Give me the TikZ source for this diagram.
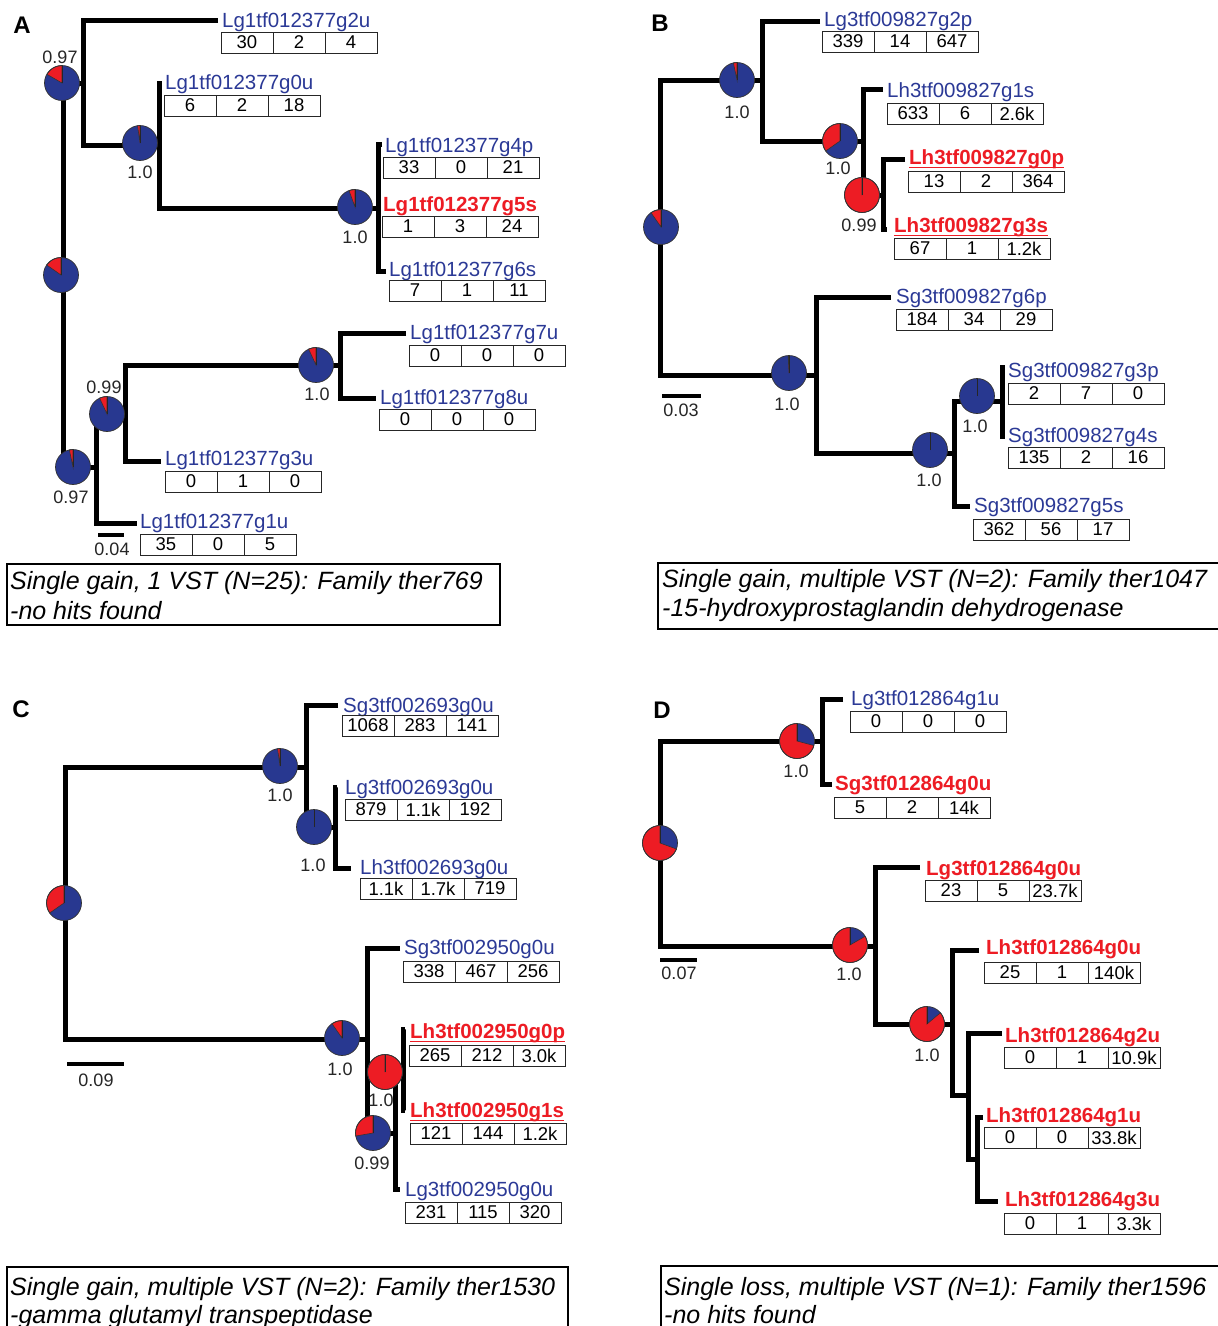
\documentclass[tikz,border=0pt]{standalone}
\usepackage{fontspec}
\setmainfont{Liberation Sans}
\definecolor{pblue}{RGB}{40,56,144}
\definecolor{pred}{RGB}{237,28,36}
\definecolor{lblue}{RGB}{43,57,150}
\tikzset{
  branch/.style={line width=5pt},
  lbl/.style={anchor=base west, inner sep=0pt, text=lblue, font=\fontsize{20.5}{24}\selectfont},
  rlbl/.style={anchor=base west, inner sep=0pt, text=pred, font=\bfseries\fontsize{20.5}{24}\selectfont},
  cell/.style={draw=black!85, line width=0.9pt, minimum width=52pt, minimum height=21pt, inner sep=0pt, outer sep=0pt, font=\fontsize{18.5}{20}\selectfont},
  supp/.style={inner sep=0pt, text=black!85, font=\fontsize{18}{20}\selectfont},
  captxt/.style={anchor=base west, inner sep=0pt, font=\itshape\fontsize{25}{30}\selectfont},
  capbox/.style={draw, line width=1.8pt},
  plabel/.style={inner sep=0pt, font=\bfseries\fontsize{24}{28}\selectfont},
  sbar/.style={line width=3.5pt},
}
\newcommand\mypie[3]{%
  \coordinate (#1) at (#2);
  \fill[pblue] (#1) circle[radius=17.5pt];
  \ifnum#3>0
    \filldraw[fill=pred, draw=black!80, line width=0.6pt] (#1) -- ++(90:17.5pt) arc[start angle=90, delta angle=#3, radius=17.5pt] -- cycle;
  \fi
  \draw[black!80, line width=0.7pt] (#1) circle[radius=17.5pt];
  \draw[black!85, line width=0.9pt] (#1) -- ++(0pt,17.5pt);
}
\newcommand\mytab[5]{%
  \node[cell, anchor=north west] (#1a) at (#2) {#3};
  \node[cell, anchor=west] (#1b) at (#1a.east) {#4};
  \node[cell, anchor=west] (#1c) at (#1b.east) {#5};
}
\newcommand\ulab[3]{%
  \node[rlbl] (#1) at (#2) {#3};
  \draw[pred, line width=1.6pt] ([yshift=-3pt]#1.base west) -- ([yshift=-3pt]#1.base east);
}
\begin{document}
\begin{tikzpicture}[x=1pt,y=-1pt]
\useasboundingbox (0,0) rectangle (1218,1326);
\fill[white] (0,0) rectangle (1218,1326);

%%%%%%%%%%%%%%%% Panel A
\node[plabel] (LA) at (22,25) {A};
\coordinate (rA) at (63,275);
\coordinate (vA1) at (83,83);
\coordinate (vA2) at (159,145);
\coordinate (vA3) at (378,208);
\coordinate (vA4) at (96,467);
\coordinate (vA5) at (125,414);
\coordinate (vA6) at (340,365);
\coordinate (xAg2u) at (218,20);
\coordinate (xAg0u) at (159,81);
\coordinate (xAg4p) at (382,144);
\coordinate (xAg5s) at (381,208);
\coordinate (xAg6s) at (386,271);
\coordinate (xAg7u) at (406,333);
\coordinate (xAg8u) at (376,398);
\coordinate (xAg3u) at (161,461);
\coordinate (xAg1u) at (137,523);
\draw[branch] (vA1) -| (rA) |- (vA4);
\draw[branch] (xAg2u) -| (vA1) |- (vA2);
\draw[branch] (xAg0u) -| (vA2) |- (vA3);
\draw[branch] (xAg4p) -| (vA3) |- (xAg6s);
\draw[branch] (vA3) -- (xAg5s);
\draw[branch] (vA5) -| (vA4) |- (xAg1u);
\draw[branch] (vA6) -| (vA5) |- (xAg3u);
\draw[branch] (xAg7u) -| (vA6) |- (xAg8u);
\mypie{pA1}{62,83}{60}
\mypie{pA2}{140,143}{8}
\mypie{pA3}{355,207}{20}
\mypie{pAr}{61,275}{55}
\mypie{pA6}{316,365}{25}
\mypie{pA5}{107,414}{25}
\mypie{pA4}{73,467}{12}
\node[supp] (sA1) at (60,57) {0.97};
\node[supp] (sA2) at (140,172) {1.0};
\node[supp] (sA3) at (355,237) {1.0};
\node[supp] (sA6) at (317,394) {1.0};
\node[supp] (sA5) at (104,387) {0.99};
\node[supp] (sA4) at (71,497) {0.97};
\node[lbl] (Ag2u) at (222,27.5) {Lg1tf012377g2u};
\mytab{tAg2u}{221,32}{30}{2}{4}
\node[lbl] (Ag0u) at (165,89.5) {Lg1tf012377g0u};
\mytab{tAg0u}{164,95}{6}{2}{18}
\node[lbl] (Ag4p) at (385,152.5) {Lg1tf012377g4p};
\mytab{tAg4p}{383,157}{33}{0}{21}
\node[rlbl] (Ag5s) at (383,211.5) {Lg1tf012377g5s};
\mytab{tAg5s}{382,216}{1}{3}{24}
\node[lbl] (Ag6s) at (389,276.5) {Lg1tf012377g6s};
\mytab{tAg6s}{389,280}{7}{1}{11}
\node[lbl] (Ag7u) at (410,339.5) {Lg1tf012377g7u};
\mytab{tAg7u}{409,345}{0}{0}{0}
\node[lbl] (Ag8u) at (380,404.5) {Lg1tf012377g8u};
\mytab{tAg8u}{379,409}{0}{0}{0}
\node[lbl] (Ag3u) at (165,465.5) {Lg1tf012377g3u};
\mytab{tAg3u}{165,471}{0}{1}{0}
\node[lbl] (Ag1u) at (140,528.5) {Lg1tf012377g1u};
\mytab{tAg1u}{140,534}{35}{0}{5}
\coordinate (bA1) at (98,535);
\coordinate (bA2) at (124,535);
\draw[sbar] (bA1) -- (bA2);
\node[supp] (bAl) at (112,549) {0.04};
\coordinate (cA1) at (7,564);
\coordinate (cA2) at (500,625);
\draw[capbox] (cA1) rectangle (cA2);
\node[captxt] (capA1) at (10,589) {Single gain, 1 VST (N=25): Family ther769};
\node[captxt] (capA2) at (10,619) {-no hits found};

%%%%%%%%%%%%%%%% Panel B
\node[plabel] (LB) at (660,23) {B};
\coordinate (rB) at (660,227);
\coordinate (vB1) at (762,80);
\coordinate (vB2) at (863,141);
\coordinate (vB3) at (883,195);
\coordinate (vB4) at (816,375);
\coordinate (vB5) at (954,453);
\coordinate (vB6) at (1002,401);
\coordinate (xBg2p) at (820,21);
\coordinate (xBg1s) at (883,89);
\coordinate (xBg0p) at (905,159);
\coordinate (xBg3s) at (887,229);
\coordinate (xBg6p) at (891,297);
\coordinate (xBg3p) at (1005,367);
\coordinate (xBg4s) at (1005,436);
\coordinate (xBg5s) at (970,506);
\draw[branch] (vB1) -| (rB) |- (vB4);
\draw[branch] (xBg2p) -| (vB1) |- (vB2);
\draw[branch] (xBg1s) -| (vB2) |- (vB3);
\draw[branch] (xBg0p) -| (vB3) |- (xBg3s);
\draw[branch] (xBg6p) -| (vB4) |- (vB5);
\draw[branch] (vB6) -| (vB5) |- (xBg5s);
\draw[branch] (xBg3p) -| (vB6) |- (xBg4s);
\mypie{pB1}{737,80}{12}
\mypie{pB2}{840,141}{125}
\mypie{pB3}{862,195}{360}
\mypie{pBr}{661,227}{35}
\mypie{pB4}{789,373}{3}
\mypie{pB5}{930,450}{0}
\mypie{pB6}{977,396}{0}
\node[supp] (sB1) at (737,112) {1.0};
\node[supp] (sB2) at (838,168) {1.0};
\node[supp] (sB3) at (859,225) {0.99};
\node[supp] (sB4) at (787,404) {1.0};
\node[supp] (sB5) at (929,480) {1.0};
\node[supp] (sB6) at (975,426) {1.0};
\node[lbl] (Bg2p) at (824,26.5) {Lg3tf009827g2p};
\mytab{tBg2p}{822,31}{339}{14}{647}
\node[lbl] (Bg1s) at (887,97.5) {Lh3tf009827g1s};
\mytab{tBg1s}{887,103}{633}{6}{2.6k}
\ulab{Bg0p}{909,164.5}{Lh3tf009827g0p}
\mytab{tBg0p}{908,171}{13}{2}{364}
\ulab{Bg3s}{894,232.5}{Lh3tf009827g3s}
\mytab{tBg3s}{894,238}{67}{1}{1.2k}
\node[lbl] (Bg6p) at (896,303.5) {Sg3tf009827g6p};
\mytab{tBg6p}{896,309}{184}{34}{29}
\node[lbl] (Bg3p) at (1008,377.5) {Sg3tf009827g3p};
\mytab{tBg3p}{1008,383}{2}{7}{0}
\node[lbl] (Bg4s) at (1008,442.5) {Sg3tf009827g4s};
\mytab{tBg4s}{1008,447}{135}{2}{16}
\node[lbl] (Bg5s) at (974,512.5) {Sg3tf009827g5s};
\mytab{tBg5s}{973,519}{362}{56}{17}
\coordinate (bB1) at (662,396);
\coordinate (bB2) at (701,396);
\draw[sbar] (bB1) -- (bB2);
\node[supp] (bBl) at (681,410) {0.03};
\coordinate (cB1) at (658,563);
\coordinate (cB2) at (1240,629);
\draw[capbox] (cB1) rectangle (cB2);
\node[captxt] (capB1) at (662,587) {Single gain, multiple VST (N=2): Family ther1047};
\node[captxt] (capB2) at (662,616) {-15-hydroxyprostaglandin dehydrogenase};

%%%%%%%%%%%%%%%% Panel C
\node[plabel] (LC) at (21,709) {C};
\coordinate (rC) at (65,903);
\coordinate (vC1) at (306,767);
\coordinate (vC2) at (335,827);
\coordinate (vC3) at (367,1039);
\coordinate (vC4) at (395,1133);
\coordinate (vC5) at (403,1072);
\coordinate (xCa) at (338,705);
\coordinate (xCb) at (337,787);
\coordinate (xCc) at (351,868);
\coordinate (xCd) at (400,948);
\coordinate (xCe) at (405,1029);
\coordinate (xCf) at (405,1110);
\coordinate (xCg) at (400,1189);
\draw[branch] (vC1) -| (rC) |- (vC3);
\draw[branch] (xCa) -| (vC1) |- (vC2);
\draw[branch] (xCb) -| (vC2) |- (xCc);
\draw[branch] (xCd) -| (vC3) |- (vC4);
\draw[branch] (vC5) -| (vC4) |- (xCg);
\draw[branch] (xCe) -| (vC5) |- (xCf);
\mypie{pC1}{280,766}{8}
\mypie{pC2}{314,827}{0}
\mypie{pCr}{64,903}{125}
\mypie{pC3}{342,1038}{35}
\mypie{pC4}{373,1133}{100}
\mypie{pC5}{385,1072}{360}
\node[supp] (sC1) at (280,795) {1.0};
\node[supp] (sC2) at (313,865) {1.0};
\node[supp] (sC3) at (340,1069) {1.0};
\node[supp] (sC5) at (381,1100) {1.0};
\node[supp] (sC4) at (372,1163) {0.99};
\node[lbl] (Ca) at (343,712.5) {Sg3tf002693g0u};
\mytab{tCa}{342,715}{1068}{283}{141}
\node[lbl] (Cb) at (345,794.5) {Lg3tf002693g0u};
\mytab{tCb}{345,799}{879}{1.1k}{192}
\node[lbl] (Cc) at (360,874.5) {Lh3tf002693g0u};
\mytab{tCc}{360,878}{1.1k}{1.7k}{719}
\node[lbl] (Cd) at (404,954.5) {Sg3tf002950g0u};
\mytab{tCd}{403,961}{338}{467}{256}
\ulab{Ce}{410,1038.5}{Lh3tf002950g0p}
\mytab{tCe}{409,1045}{265}{212}{3.0k}
\ulab{Cf}{410,1117.5}{Lh3tf002950g1s}
\mytab{tCf}{410,1123}{121}{144}{1.2k}
\node[lbl] (Cg) at (405,1196.5) {Lg3tf002950g0u};
\mytab{tCg}{405,1202}{231}{115}{320}
\coordinate (bC1) at (67,1064);
\coordinate (bC2) at (124,1064);
\draw[sbar] (bC1) -- (bC2);
\node[supp] (bCl) at (96,1080) {0.09};
\coordinate (cC1) at (7,1267);
\coordinate (cC2) at (568,1345);
\draw[capbox] (cC1) rectangle (cC2);
\node[captxt] (capC1) at (10,1295) {Single gain, multiple VST (N=2): Family ther1530};
\node[captxt] (capC2) at (10,1323) {-gamma glutamyl transpeptidase};

%%%%%%%%%%%%%%%% Panel D
\node[plabel] (LD) at (662,710) {D};
\coordinate (rD) at (660,843);
\coordinate (vD1) at (822,741);
\coordinate (vD2) at (875,946);
\coordinate (vD3) at (952,1024);
\coordinate (vD4) at (968,1095);
\coordinate (vD5) at (977,1159);
\coordinate (xDa) at (843,699);
\coordinate (xDb) at (832,784);
\coordinate (xDc) at (920,867);
\coordinate (xDd) at (979,950);
\coordinate (xDe) at (1002,1033);
\coordinate (xDf) at (983,1117);
\coordinate (xDg) at (998,1201);
\draw[branch] (vD1) -| (rD) |- (vD2);
\draw[branch] (xDa) -| (vD1) |- (xDb);
\draw[branch] (xDc) -| (vD2) |- (vD3);
\draw[branch] (xDd) -| (vD3) |- (vD4);
\draw[branch] (xDe) -| (vD4) |- (vD5);
\draw[branch] (xDf) -| (vD5) |- (xDg);
\mypie{pD1}{797,741}{255}
\mypie{pDr}{660,843}{250}
\mypie{pD2}{850,945}{300}
\mypie{pD3}{927,1024}{310}
\node[supp] (sD1) at (796,771) {1.0};
\node[supp] (sD2) at (849,974) {1.0};
\node[supp] (sD3) at (927,1055) {1.0};
\node[lbl] (Da) at (851,705.5) {Lg3tf012864g1u};
\mytab{tDa}{850,711}{0}{0}{0}
\node[rlbl] (Db) at (835,790.5) {Sg3tf012864g0u};
\mytab{tDb}{834,797}{5}{2}{14k}
\node[rlbl] (Dc) at (926,875.5) {Lg3tf012864g0u};
\mytab{tDc}{925,880}{23}{5}{23.7k}
\node[rlbl] (Dd) at (986,954.5) {Lh3tf012864g0u};
\mytab{tDd}{984,962}{25}{1}{140k}
\node[rlbl] (De) at (1005,1042.5) {Lh3tf012864g2u};
\mytab{tDe}{1004,1047}{0}{1}{10.9k}
\node[rlbl] (Df) at (986,1122.5) {Lh3tf012864g1u};
\mytab{tDf}{984,1127}{0}{0}{33.8k}
\node[rlbl] (Dg) at (1005,1206.5) {Lh3tf012864g3u};
\mytab{tDg}{1004,1213}{0}{1}{3.3k}
\coordinate (bD1) at (660,960);
\coordinate (bD2) at (697,960);
\draw[sbar] (bD1) -- (bD2);
\node[supp] (bDl) at (679,973) {0.07};
\coordinate (cD1) at (661,1266);
\coordinate (cD2) at (1240,1345);
\draw[capbox] (cD1) rectangle (cD2);
\node[captxt] (capD1) at (664,1295) {Single loss, multiple VST (N=1): Family ther1596};
\node[captxt] (capD2) at (664,1323) {-no hits found};
\end{tikzpicture}
\end{document}
